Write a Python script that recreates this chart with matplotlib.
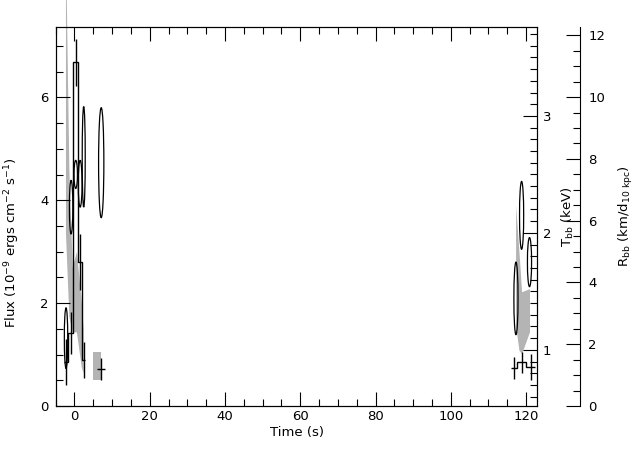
import matplotlib
matplotlib.use('Agg')
import matplotlib.pyplot as plt
from matplotlib.patches import Ellipse

# ---- data ----
# flux histogram, first burst (contiguous bins)
edges_a = [-2.9, -1.6, -0.4, 1.05, 2.0, 2.9]
flux_a = [0.85, 1.42, 6.68, 2.80, 0.90]
ferr_a = [0.45, 0.40, 0.45, 0.55, 0.35]
# lone bin after the first burst
edges_b = [5.9, 8.1]
flux_b = [0.72]
ferr_b = [0.22]
# second burst
edges_c = [116.1, 117.7, 120.1, 122.3]
flux_c = [0.74, 0.85, 0.76]
ferr_c = [0.21, 0.20, 0.25]

# blackbody temperature (keV) with errors, drawn as ellipses
t_kt = [-2.25, -0.9, 0.33, 1.5, 2.45, 7.1, 117.3, 118.8, 120.9]
kt = [1.10, 2.22, 2.50, 2.42, 2.65, 2.60, 1.44, 2.15, 1.75]
kt_err = [0.26, 0.23, 0.12, 0.20, 0.43, 0.47, 0.31, 0.29, 0.21]
kt_w = [0.9, 0.9, 0.9, 1.0, 0.8, 1.4, 1.1, 1.1, 1.1]

# blackbody radius, error bands (grey)
t_ra = [-2.4, -1.5, -0.6, 0.5, 1.8, 2.3]
r_lo_a = [5.6, 2.9, 2.4, 2.4, 1.26, 1.07]
r_hi_a = [15.0, 7.7, 4.5, 5.0, 3.4, 2.5]
t_rb = [4.9, 7.0]
r_lo_b = [0.84, 0.84]
r_hi_b = [1.75, 1.75]
t_rc = [117.2, 118.1, 118.8, 120.9]
r_lo_c = [2.6, 1.8, 1.7, 2.4]
r_hi_c = [6.5, 5.0, 3.7, 3.8]

grey = '#b4b4b4'
fs = 9.5

fig = plt.figure(figsize=(6.4, 4.57), dpi=100)
ax = fig.add_axes([0.087, 0.1116, 0.7527, 0.8293])
axT = ax.twinx()
axR = ax.twinx()

ax.set_xlim(-5, 123)
ax.set_ylim(0, 7.37)
axT.set_ylim(0.52, 3.76)
axR.set_ylim(0, 12.27)

# layering: grey radius bands at the bottom, black lines on top
axR.set_zorder(1)
axT.set_zorder(2)
ax.set_zorder(3)
ax.patch.set_visible(False)
axT.patch.set_visible(False)

axR.fill_between(t_ra, r_lo_a, r_hi_a, color=grey, lw=0, clip_on=False)
axR.fill_between(t_rb, r_lo_b, r_hi_b, color=grey, lw=0)
axR.fill_between(t_rc, r_lo_c, r_hi_c, color=grey, lw=0)

for t, k, e, w in zip(t_kt, kt, kt_err, kt_w):
    axT.add_patch(Ellipse((t, k), w, 2 * e, fill=False, ec='k', lw=0.9))

for edges, fl, fe in [(edges_a, flux_a, ferr_a), (edges_b, flux_b, ferr_b), (edges_c, flux_c, ferr_c)]:
    ax.stairs(fl, edges, baseline=None, color='k', lw=1.0)
    mids = [(edges[i] + edges[i + 1]) / 2 for i in range(len(fl))]
    ax.errorbar(mids, fl, yerr=fe, fmt='none', ecolor='k', elinewidth=1.0, capsize=0)

# ticks, IDL style
ax.set_xticks(range(0, 121, 20))
ax.set_xticks(range(-5, 124, 5), minor=True)
ax.set_yticks([0, 2, 4, 6])
ax.set_yticks([i * 0.5 for i in range(15)], minor=True)
ax.tick_params(axis='x', which='both', direction='in', top=True, labelsize=fs, pad=3)
ax.tick_params(axis='y', which='both', direction='in', right=False, labelsize=fs, pad=5)
ax.tick_params(which='major', length=10, width=0.8)
ax.tick_params(which='minor', length=5, width=0.8)

axT.set_yticks([1, 2, 3])
axT.set_yticks([0.6 + i * 0.1 for i in range(32)], minor=True)
axT.tick_params(which='both', direction='in', labelsize=fs, pad=4, width=0.8)
axT.tick_params(which='major', length=10)
axT.tick_params(which='minor', length=5)

axR.spines['right'].set_position(('axes', 1.088))
for s in ['left', 'top', 'bottom']:
    axR.spines[s].set_visible(False)
axR.set_yticks(range(0, 13, 2))
axR.set_yticks([i * 0.5 for i in range(25)], minor=True)
axR.tick_params(which='both', direction='in', labelsize=fs, pad=6, width=0.8)
axR.tick_params(which='major', length=10)
axR.tick_params(which='minor', length=5)

for a in (ax, axT, axR):
    for s in a.spines.values():
        s.set_linewidth(0.8)

ax.set_xlabel('Time (s)', fontsize=fs, labelpad=2)
ax.set_ylabel('Flux (10$^{-9}$ ergs cm$^{-2}$ s$^{-1}$)', fontsize=fs)
ax.yaxis.set_label_coords(-0.07, 0.43)
axT.set_ylabel('T$_{\\rm bb}$ (keV)', fontsize=fs)
axT.yaxis.set_label_coords(1.047, 0.5)
axR.set_ylabel('R$_{\\rm bb}$ (km/d$_{\\rm 10\\ kpc}$)', fontsize=fs)
axR.yaxis.set_label_coords(1.166, 0.5)

fig.savefig('out.png', dpi=100)
